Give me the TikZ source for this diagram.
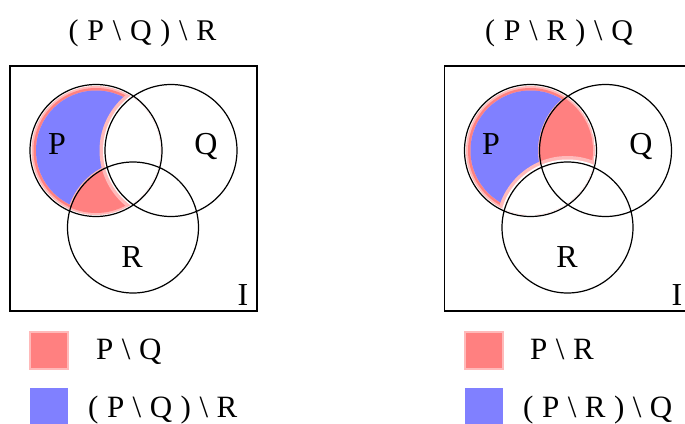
\documentclass[tikz,border=0pt]{standalone}
\usepackage{fontspec}
\setmainfont{Liberation Serif}
\definecolor{setred}{HTML}{FF8080}
\definecolor{setblue}{HTML}{8080FF}
\definecolor{setpale}{HTML}{FFBABA}
\newcommand\widespaces{\spaceskip=8.8pt\relax}
\newcommand\keyspaces{\spaceskip=8.5pt\relax}

\begin{document}
\begin{tikzpicture}[
    x=1pt, y=-1pt,
    set line/.style={draw=black, line width=1.2pt},
    universe/.style={draw=black, line width=1.9pt},
    title text/.style={font=\fontsize{30}{34}\selectfont\widespaces, anchor=base, inner sep=0pt},
    set label/.style={font=\fontsize{32}{36}\selectfont, anchor=base, inner sep=0pt},
    legend text/.style={font=\fontsize{31}{36}\selectfont\keyspaces, anchor=base west, inner sep=0pt},
    key box/.style={minimum width=38pt, minimum height=37pt, inner sep=0pt,
        anchor=north west, line width=2pt}
]
    \useasboundingbox (0,0) rectangle (685,423);

    % left diagram: (P \ Q) \ R
    \coordinate (lP) at (96,150.5);
    \coordinate (lQ) at (171,150.5);
    \coordinate (lR) at (133,227.5);

    \begin{scope}
        \clip (lP) circle[radius=64.5];
        \fill[setpale] (lP) circle[radius=64.5];
        \fill[setred] (lP) circle[radius=62.5];
        \begin{scope}
            \clip (lP) circle[radius=60];
            \fill[setpale, even odd rule] (0,0) rectangle (685,423)
                (lQ) circle[radius=69] (lR) circle[radius=66];
            \fill[setblue, even odd rule] (0,0) rectangle (685,423)
                (lQ) circle[radius=71] (lR) circle[radius=67.5];
        \end{scope}
        \fill[setpale] (lQ) circle[radius=71.5];
        \fill[white] (lQ) circle[radius=68];
    \end{scope}

    \draw[set line] (lP) circle[radius=66] (lQ) circle[radius=66]
        (lR) circle[radius=65.5];
    \draw[universe] (10,66) rectangle (257,311);

    \node[title text] (ltitle) at (142.5,40.7)
        {( P \textbackslash{} Q ) \textbackslash{} R};
    \node[set label] (lPname) at (57,154) {P};
    \node[set label] (lQname) at (206,154) {Q};
    \node[set label] (lRname) at (132,267) {R};
    \node[set label] (lIname) at (243,305) {I};

    % right diagram: (P \ R) \ Q
    \coordinate (rP) at (530.5,150.5);
    \coordinate (rQ) at (605.5,150.5);
    \coordinate (rR) at (567.5,227.5);

    \begin{scope}
        \clip (rP) circle[radius=64.5];
        \fill[setpale] (rP) circle[radius=64.5];
        \fill[setred] (rP) circle[radius=62.5];
        \begin{scope}
            \clip (rP) circle[radius=60];
            \fill[setpale, even odd rule] (0,0) rectangle (685,423)
                (rQ) circle[radius=66] (rR) circle[radius=69];
            \fill[setblue, even odd rule] (0,0) rectangle (685,423)
                (rQ) circle[radius=67.5] (rR) circle[radius=71];
        \end{scope}
        \fill[setpale] (rR) circle[radius=71.5];
        \fill[white] (rR) circle[radius=68];
    \end{scope}

    \draw[set line] (rP) circle[radius=66] (rQ) circle[radius=66]
        (rR) circle[radius=65.5];
    \draw[universe] (444.5,66) rectangle (691.5,311);

    \node[title text] (rtitle) at (559,40.7)
        {( P \textbackslash{} R ) \textbackslash{} Q};
    \node[set label] (rPname) at (491,154) {P};
    \node[set label] (rQname) at (641,154) {Q};
    \node[set label] (rRname) at (567,267) {R};
    \node[set label] (rIname) at (677,305) {I};

    % legends
    \node[key box, fill=setred, draw=setpale] (lkeyred) at (29,331) {};
    \node[key box, fill=setblue] (lkeyblue) at (29,387) {};
    \node[legend text] (lkeyredtext) at (96,359) {P \textbackslash{} Q};
    \node[legend text] (lkeybluetext) at (88,417)
        {( P \textbackslash{} Q ) \textbackslash{} R};

    \node[key box, fill=setred, draw=setpale] (rkeyred) at (463.5,331) {};
    \node[key box, fill=setblue] (rkeyblue) at (463.5,387) {};
    \node[legend text] (rkeyredtext) at (530,359) {P \textbackslash{} R};
    \node[legend text] (rkeybluetext) at (523,417)
        {( P \textbackslash{} R ) \textbackslash{} Q};
\end{tikzpicture}
\end{document}
